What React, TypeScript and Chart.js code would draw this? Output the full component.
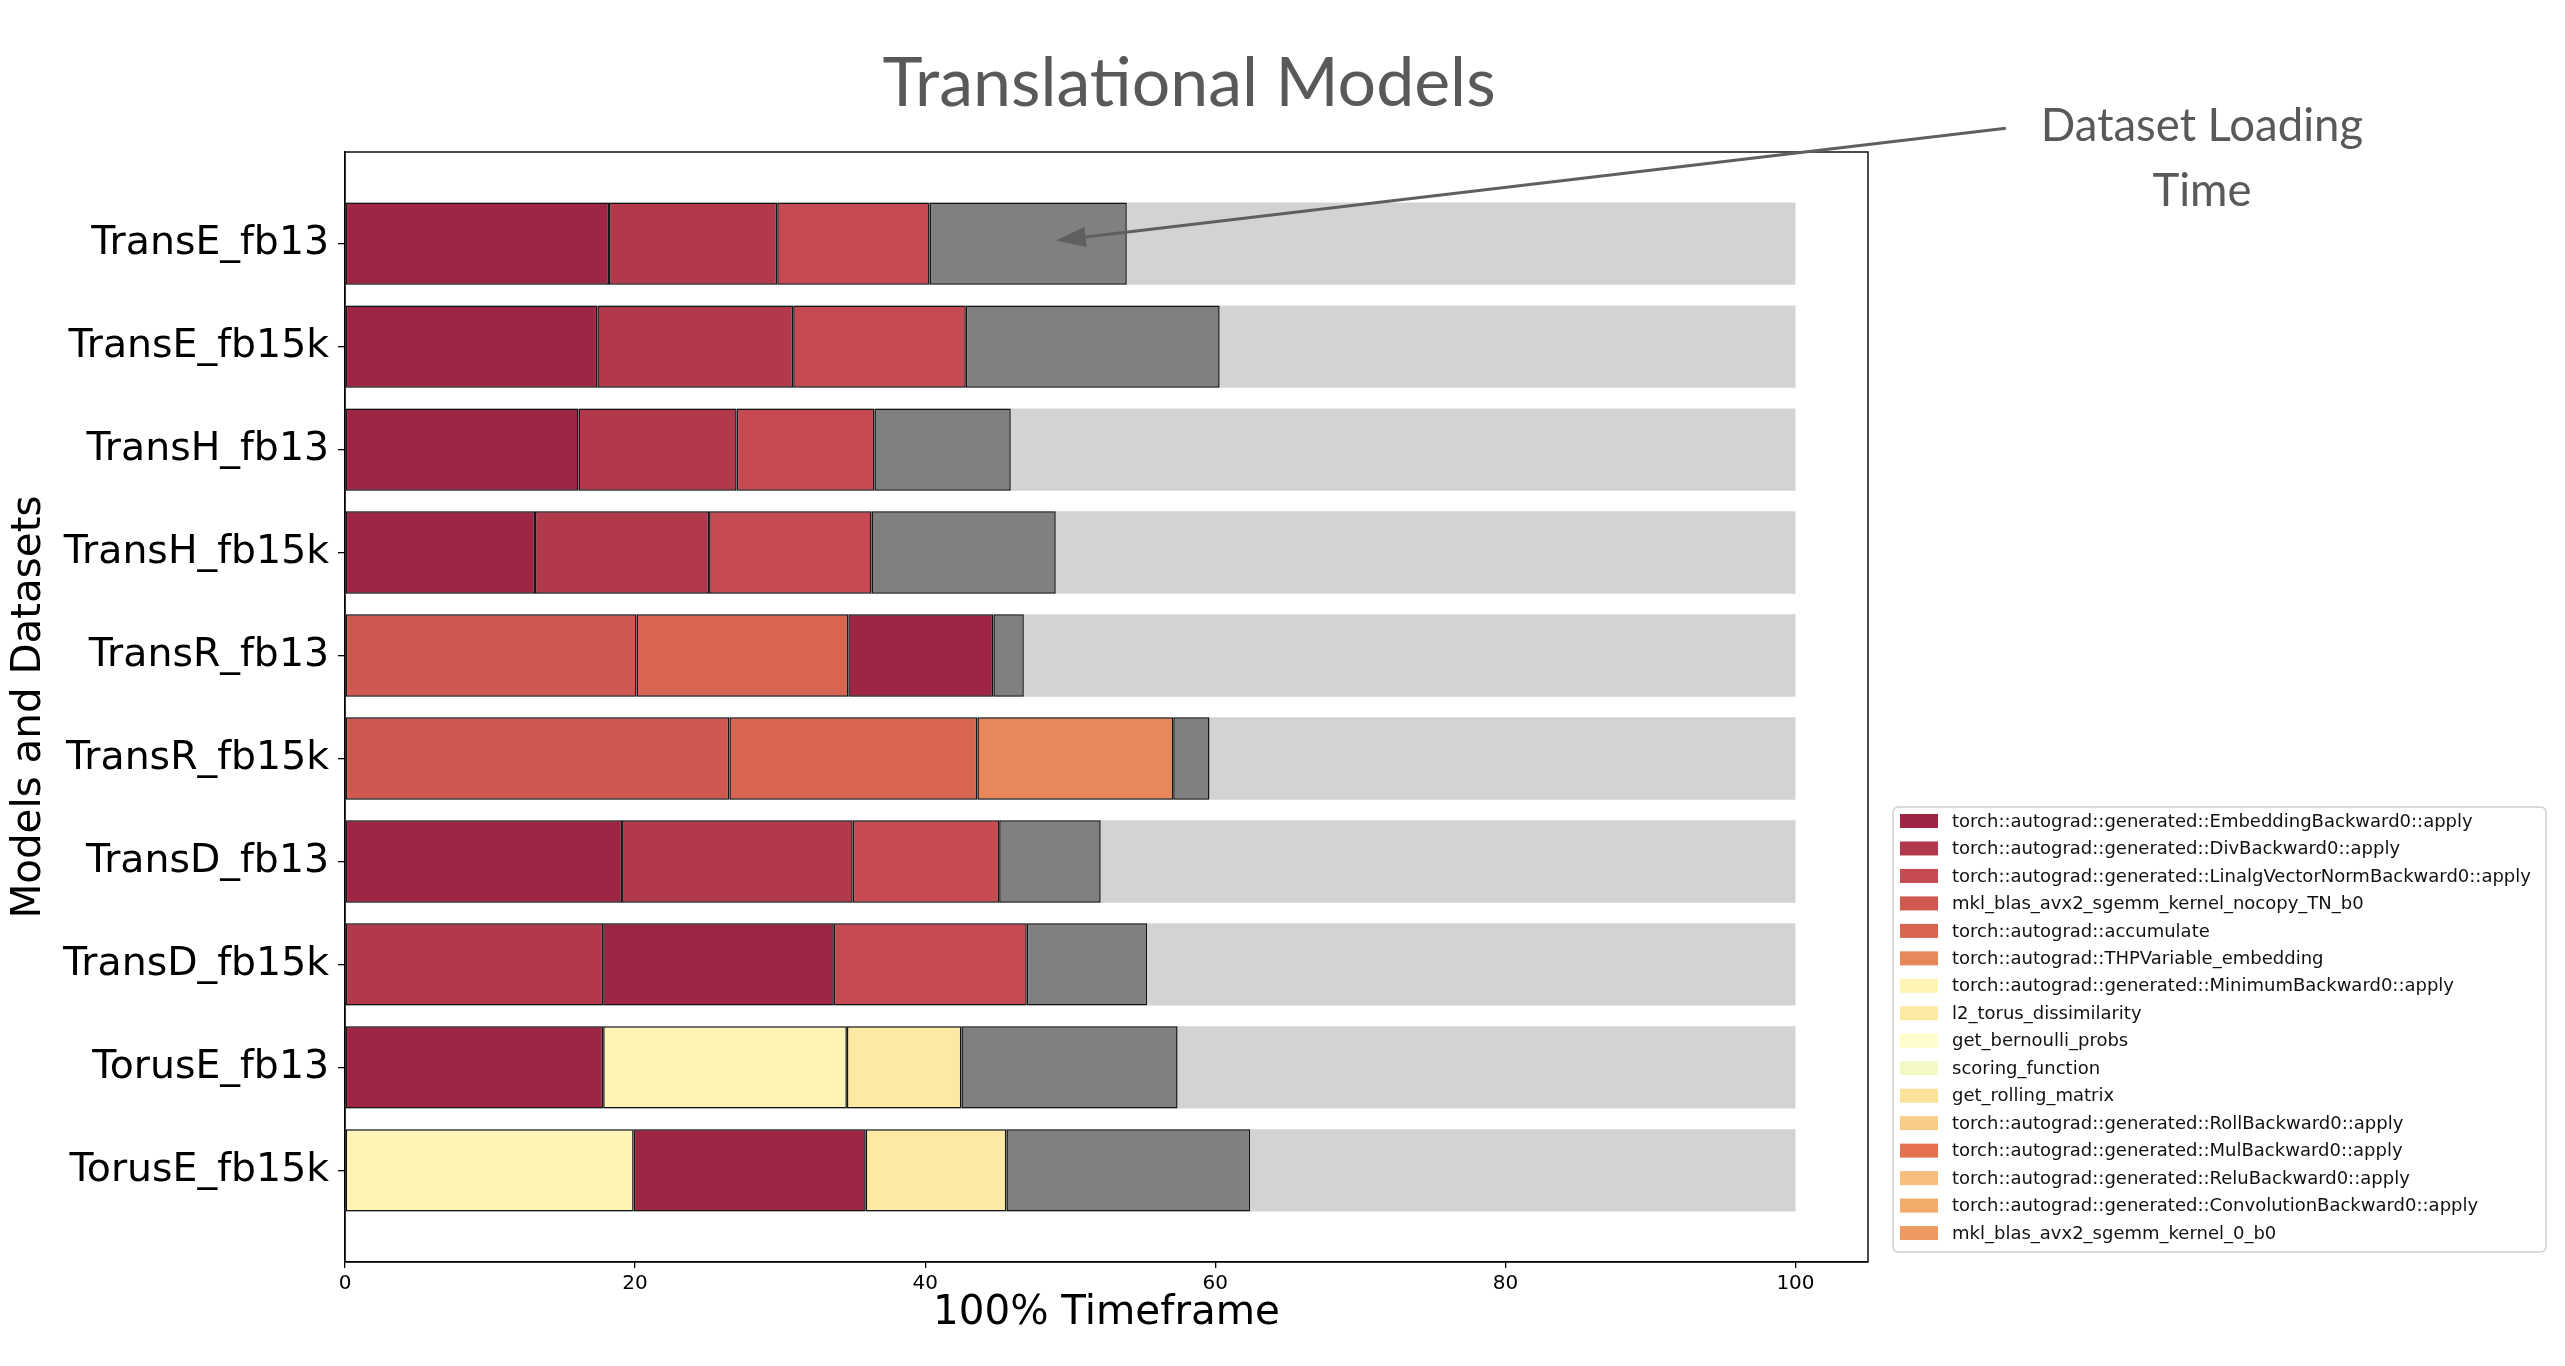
import React, { useEffect, useRef } from 'react';
import { Chart, registerables } from 'chart.js';

Chart.register(...registerables);

const categories = [
  'TransE_fb13', 'TransE_fb15k', 'TransH_fb13', 'TransH_fb15k', 'TransR_fb13',
  'TransR_fb15k', 'TransD_fb13', 'TransD_fb15k', 'TorusE_fb13', 'TorusE_fb15k',
];

const functionLabels = [
  'torch::autograd::generated::EmbeddingBackward0::apply',
  'torch::autograd::generated::DivBackward0::apply',
  'torch::autograd::generated::LinalgVectorNormBackward0::apply',
  'mkl_blas_avx2_sgemm_kernel_nocopy_TN_b0',
  'torch::autograd::accumulate',
  'torch::autograd::THPVariable_embedding',
  'torch::autograd::generated::MinimumBackward0::apply',
  'l2_torus_dissimilarity',
  'get_bernoulli_probs',
  'scoring_function',
  'get_rolling_matrix',
  'torch::autograd::generated::RollBackward0::apply',
  'torch::autograd::generated::MulBackward0::apply',
  'torch::autograd::generated::ReluBackward0::apply',
  'torch::autograd::generated::ConvolutionBackward0::apply',
  'mkl_blas_avx2_sgemm_kernel_0_b0',
];

const functionColors = [
  '#9e2644', '#b2384b', '#c54a52', '#cf5850', '#d86551', '#e8885a',
  '#fdf4b6', '#fce9a3', '#fefdcb', '#f4f8c5', '#fae29a', '#f7cd87',
  '#e4704e', '#f5be7b', '#f1ab6b', '#ec9a62',
];

// which function each stacked segment belongs to, left to right, per row
const segmentFunctions = [
  [0, 1, 2], [0, 1, 2], [0, 1, 2], [0, 1, 2], [3, 4, 0],
  [3, 4, 5], [0, 1, 2], [1, 0, 2], [0, 6, 7], [6, 0, 7],
];

// share of the timeframe (%) for each segment, per row
const segmentValues = [
  [18.2, 11.6, 10.5],
  [17.4, 13.5, 11.9],
  [16.1, 10.9, 9.5],
  [13.1, 12.0, 11.2],
  [20.1, 14.6, 10.0],
  [26.5, 17.1, 13.5],
  [19.1, 15.9, 10.1],
  [17.8, 15.9, 13.3],
  [17.8, 16.8, 7.9],
  [19.9, 16.0, 9.7],
];

const loadingTime = [13.6, 17.5, 9.4, 12.7, 2.1, 2.5, 7.0, 8.3, 14.9, 16.8];
const timeframe = [100, 100, 100, 100, 100, 100, 100, 100, 100, 100];
const xTicks = [0, 20, 40, 60, 80, 100];

// annotation arrow (data coordinates)
const arrowTip = [49.0, -0.03];
const arrowTail = [114.5, -1.12];

function buildDatasets() {
  const fnData: any[][] = functionLabels.map(() => []);
  const loadData: any[] = [];
  categories.forEach((_, row) => {
    let start = 0;
    segmentFunctions[row].forEach((fn, k) => {
      const end = start + segmentValues[row][k];
      fnData[fn].push({ y: row, x: [start, end] });
      start = end;
    });
    loadData.push({ y: row, x: [start, start + loadingTime[row]] });
  });
  const common = {
    borderColor: 'rgba(0,0,0,0.9)',
    borderWidth: 1.5,
    borderSkipped: false,
    grouped: false,
    order: 1,
  };
  const sets: any[] = functionLabels.map((label, i) => ({
    ...common,
    label,
    data: fnData[i],
    backgroundColor: functionColors[i],
    isFunction: true,
  }));
  sets.push({ ...common, label: 'Dataset Loading Time', data: loadData, backgroundColor: '#808080' });
  sets.push({
    label: 'Timeframe',
    data: timeframe.map((v, row) => ({ y: row, x: [0, v] })),
    backgroundColor: '#d3d3d3',
    borderWidth: 0,
    grouped: false,
    order: 10,
  });
  return sets;
}

const decorPlugin = {
  id: 'decor',
  afterDraw(chart: any) {
    const ctx = chart.ctx;
    const ca = chart.chartArea;
    const xs = chart.scales.x;
    const ys = chart.scales.y;
    ctx.save();
    // frame
    ctx.strokeStyle = '#000';
    ctx.lineWidth = 1.4;
    ctx.strokeRect(ca.left, ca.top, ca.right - ca.left, ca.bottom - ca.top);

    // title
    ctx.fillStyle = '#595959';
    ctx.textAlign = 'center';
    ctx.textBaseline = 'alphabetic';
    ctx.font = '68px Lato';
    ctx.fillText('Translational Models', 1189, 106);

    // annotation text
    ctx.font = '45.5px Lato';
    ctx.fillText('Dataset Loading', 2202, 141);
    ctx.fillText('Time', 2202, 206);

    // arrow
    const tx = xs.getPixelForValue(arrowTip[0]);
    const ty = ys.getPixelForValue(arrowTip[1]);
    const sx = xs.getPixelForValue(arrowTail[0]);
    const sy = ys.getPixelForValue(arrowTail[1]);
    const ang = Math.atan2(ty - sy, tx - sx);
    const headLen = 30;
    const headHalf = 10;
    const bx = tx - headLen * Math.cos(ang);
    const by = ty - headLen * Math.sin(ang);
    ctx.strokeStyle = '#5f5f5f';
    ctx.fillStyle = '#5f5f5f';
    ctx.lineWidth = 3;
    ctx.beginPath();
    ctx.moveTo(sx, sy);
    ctx.lineTo(bx, by);
    ctx.stroke();
    ctx.beginPath();
    ctx.moveTo(tx, ty);
    ctx.lineTo(bx + headHalf * Math.sin(ang), by - headHalf * Math.cos(ang));
    ctx.lineTo(bx - headHalf * Math.sin(ang), by + headHalf * Math.cos(ang));
    ctx.closePath();
    ctx.fill();

    // legend
    const lx = 1893, ly = 807, lw = 653, lh = 445, r = 6;
    ctx.beginPath();
    ctx.moveTo(lx + r, ly);
    ctx.lineTo(lx + lw - r, ly);
    ctx.quadraticCurveTo(lx + lw, ly, lx + lw, ly + r);
    ctx.lineTo(lx + lw, ly + lh - r);
    ctx.quadraticCurveTo(lx + lw, ly + lh, lx + lw - r, ly + lh);
    ctx.lineTo(lx + r, ly + lh);
    ctx.quadraticCurveTo(lx, ly + lh, lx, ly + lh - r);
    ctx.lineTo(lx, ly + r);
    ctx.quadraticCurveTo(lx, ly, lx + r, ly);
    ctx.closePath();
    ctx.fillStyle = 'rgba(255,255,255,0.8)';
    ctx.fill();
    ctx.strokeStyle = '#d0d0d0';
    ctx.lineWidth = 1.5;
    ctx.stroke();

    ctx.font = '18px "DejaVu Sans"';
    ctx.textAlign = 'left';
    ctx.textBaseline = 'middle';
    const items = chart.data.datasets.filter((d: any) => d.isFunction);
    items.forEach((d: any, i: number) => {
      const cy = 821 + i * 27.47;
      ctx.fillStyle = d.backgroundColor;
      ctx.fillRect(1900, cy - 7, 38, 14);
      ctx.fillStyle = '#111';
      ctx.fillText(d.label, 1952, cy + 1);
    });
    ctx.restore();
  },
};

export default function App() {
  const ref = useRef<HTMLCanvasElement>(null);
  useEffect(() => {
    const chart = new Chart(ref.current as HTMLCanvasElement, {
      type: 'bar',
      data: { datasets: buildDatasets() },
      options: {
        animation: false,
        responsive: false,
        devicePixelRatio: 1,
        indexAxis: 'y',
        layout: { padding: { left: 0, top: 152, right: 697, bottom: 0 } },
        datasets: { bar: { categoryPercentage: 1, barPercentage: 0.8 } } as any,
        plugins: {
          legend: { display: false },
          tooltip: { enabled: false },
          title: { display: false },
        },
        scales: {
          x: {
            type: 'linear',
            min: 0,
            max: 105,
            offset: false,
            afterBuildTicks: (scale: any) => {
              scale.ticks = xTicks.map((v) => ({ value: v }));
            },
            afterFit: (scale: any) => {
              scale.height = 104;
            },
            grid: { drawOnChartArea: false, drawTicks: true, tickLength: 6, color: '#000', lineWidth: 1.3, offset: false },
            border: { display: true, color: '#000', width: 1.3 },
            ticks: {
              autoSkip: false,
              maxRotation: 0,
              padding: 4,
              color: '#000',
              font: { family: 'DejaVu Sans', size: 20 },
            },
            title: {
              display: true,
              text: '100% Timeframe',
              color: '#000',
              font: { family: 'DejaVu Sans', size: 40.4 },
              padding: { top: 0, bottom: 28 },
            },
          },
          y: {
            type: 'linear',
            min: -0.89,
            max: 9.89,
            reverse: true,
            offset: false,
            afterBuildTicks: (scale: any) => {
              scale.ticks = categories.map((_, i) => ({ value: i }));
            },
            afterFit: (scale: any) => {
              scale.width = 345;
            },
            grid: { drawOnChartArea: false, drawTicks: true, tickLength: 7, color: '#000', lineWidth: 1.3, offset: false },
            border: { display: true, color: '#000', width: 1.3 },
            ticks: {
              autoSkip: false,
              padding: 9,
              color: '#000',
              font: { family: 'DejaVu Sans', size: 39.4 },
              callback: (value: any) => categories[value] ?? '',
            },
            title: {
              display: true,
              text: 'Models and Datasets',
              color: '#000',
              font: { family: 'DejaVu Sans', size: 40.4 },
              padding: { top: 5, bottom: 0 },
            },
          },
        },
      } as any,
      plugins: [decorPlugin],
    });
    return () => chart.destroy();
  }, []);

  return (
    <div style={{ position: 'fixed', left: 0, top: 0, width: 2565, height: 1366, background: '#fff' }}>
      <canvas ref={ref} width={2565} height={1366} style={{ display: 'block', width: 2565, height: 1366 }} />
    </div>
  );
}
